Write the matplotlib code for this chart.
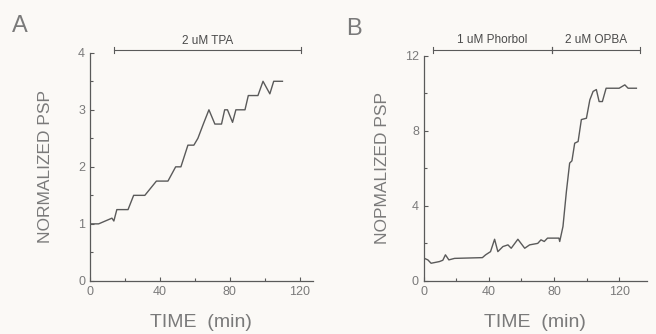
import matplotlib
matplotlib.use("Agg")
import matplotlib.pyplot as plt
from matplotlib.ticker import MultipleLocator

# panel A: 2 uM TPA
time_a = [0, 5, 12.6, 13.7, 15.4, 21.8, 25, 31.4, 38, 44.6, 49, 52, 56, 59.4,
          61.7, 64.8, 68, 71.4, 75.2, 77, 78.6, 81.5, 83.4, 88.6, 90.5, 96,
          98.9, 102.8, 105, 110]
psp_a = [1.0, 1.0, 1.1, 1.05, 1.25, 1.25, 1.5, 1.5, 1.75, 1.75, 2.0, 2.0, 2.38, 2.38,
         2.5, 2.75, 3.0, 2.75, 2.75, 3.0, 3.0, 2.78, 3.0, 3.0, 3.25, 3.25,
         3.5, 3.28, 3.5, 3.5]

# panel B: 1 uM Phorbol then 2 uM OPBA
time_b = [0.4, 2.5, 4.5, 9.6, 11.7, 13.3, 15.4, 18.9, 36, 38, 41, 43.5, 45.5, 48.6,
          51.7, 53.7, 57.8, 62, 65, 70, 72, 74, 76, 83, 83.5, 85.5, 87.6, 89.6,
          91, 92.7, 94.8, 96.8, 99.9, 102, 104, 106, 107.7, 109.7, 112, 120,
          123.5, 125.5, 130.6]
psp_b = [1.2, 1.12, 0.94, 1.03, 1.1, 1.39, 1.12, 1.2, 1.24, 1.39, 1.56, 2.22, 1.56, 1.83,
         1.92, 1.74, 2.22, 1.74, 1.92, 2.0, 2.19, 2.1, 2.28, 2.28, 2.1, 2.9, 4.76, 6.28,
         6.4, 7.34, 7.43, 8.6, 8.67, 9.65, 10.1, 10.2, 9.56, 9.56, 10.27, 10.27,
         10.45, 10.27, 10.27]

bar_a = [(13.7, 120.6, "2 uM TPA")]
bar_b = [(5.5, 79, "1 uM Phorbol"), (79, 132.7, "2 uM OPBA")]

bg = "#fbf9f6"
ink = "#5a5a5a"
txt = "#7a7a7a"
plt.rcParams['font.family'] = ['Liberation Sans', 'DejaVu Sans']

fig = plt.figure(figsize=(6.56, 3.34), dpi=100, facecolor=bg)
ax_a = fig.add_axes([0.137, 0.159, 0.340, 0.683])
ax_b = fig.add_axes([0.646, 0.159, 0.340, 0.674])


def style(ax, xmax, ymax, ymaj, ymin, ylabel, pad):
    ax.set_facecolor(bg)
    ax.set_xlim(0, xmax)
    ax.set_ylim(0, ymax)
    ax.spines["top"].set_visible(False)
    ax.spines["right"].set_visible(False)
    for s in ["left", "bottom"]:
        ax.spines[s].set_color(ink)
        ax.spines[s].set_linewidth(0.9)
    ax.xaxis.set_major_locator(MultipleLocator(40))
    ax.xaxis.set_minor_locator(MultipleLocator(20))
    ax.yaxis.set_major_locator(MultipleLocator(ymaj))
    ax.yaxis.set_minor_locator(MultipleLocator(ymin))
    ax.tick_params(which="both", direction="in", color=ink, labelcolor=txt,
                   labelsize=9, width=0.8)
    ax.tick_params(which="major", length=3)
    ax.tick_params(which="minor", length=2)
    ax.set_xlabel("TIME  (min)", fontsize=14, color=txt, labelpad=12)
    ax.set_ylabel(ylabel, fontsize=12.5, color=txt, labelpad=pad)


def drug_bars(ax, bars, ybar, ytxt, cap):
    for x0, x1, label in bars:
        ax.plot([x0, x1], [ybar, ybar], color=ink, lw=0.8, clip_on=False)
        for x in (x0, x1):
            ax.plot([x, x], [ybar - cap, ybar + cap], color=ink, lw=0.8, clip_on=False)
        ax.text((x0 + x1) / 2, ytxt, label, ha="center", va="bottom",
                fontsize=8.5, color="#4a4a4a", clip_on=False)


style(ax_a, 127.4, 4, 1, 0.5, "NORMALIZED PSP", 18)
ax_a.plot(time_a, psp_a, color=ink, lw=1.0)
drug_bars(ax_a, bar_a, 4.05, 4.1, 0.05)

style(ax_b, 137, 12, 4, 2, "NOPMALIZED PSP", 11)
ax_b.plot(time_b, psp_b, color=ink, lw=1.0)
drug_bars(ax_b, bar_b, 12.3, 12.5, 0.15)

fig.text(0.018, 0.905, "A", fontsize=17, color=txt)
fig.text(0.527, 0.895, "B", fontsize=17, color=txt)

fig.savefig("out.png", dpi=100, facecolor=bg)
